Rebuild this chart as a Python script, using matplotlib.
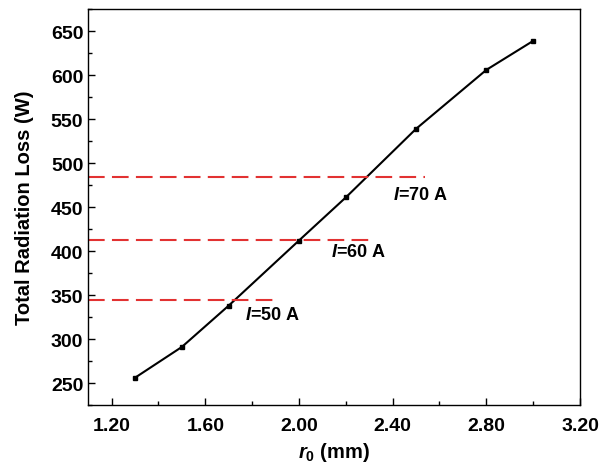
import matplotlib
matplotlib.use('Agg')
import matplotlib.pyplot as plt
from matplotlib.ticker import MultipleLocator, FormatStrFormatter

plt.rcParams['font.family'] = 'Liberation Sans'
plt.rcParams['font.weight'] = 'bold'
plt.rcParams['mathtext.fontset'] = 'custom'
plt.rcParams['mathtext.it'] = 'Liberation Sans:bold:italic'
plt.rcParams['mathtext.rm'] = 'Liberation Sans:bold'

# data
r0 = [1.3, 1.5, 1.7, 2.0, 2.2, 2.5, 2.8, 3.0]
loss = [256, 291, 338, 412, 461, 539, 606, 639]

# reference lines for each current
currents = ['$I$=50 A', '$I$=60 A', '$I$=70 A']
ref_loss = [344, 413, 484]
ref_end = [1.91, 2.32, 2.54]
label_x = [1.77, 2.135, 2.40]
label_y = [328, 399, 464]

fig = plt.figure(figsize=(6.08, 4.64), dpi=100)
ax = fig.add_axes([0.145, 0.125, 0.809, 0.853])

ax.plot(r0, loss, color='black', lw=1.5, marker='s', ms=3.5)

x0 = 1.1
for yv, xe, lab, lx, ly in zip(ref_loss, ref_end, currents, label_x, label_y):
    ax.plot([x0, xe], [yv, yv], color='#e23232', lw=1.5, ls=(0, (8, 3.5)))
    ax.text(lx, ly, lab, fontsize=13, fontweight='bold', va='center', ha='left')

ax.set_xlim(1.1, 3.2)
ax.set_ylim(225, 675)
ax.xaxis.set_major_locator(MultipleLocator(0.4))
ax.xaxis.set_minor_locator(MultipleLocator(0.2))
ax.xaxis.set_major_formatter(FormatStrFormatter('%.2f'))
ax.yaxis.set_major_locator(MultipleLocator(50))
ax.yaxis.set_minor_locator(MultipleLocator(25))
ax.tick_params(which='both', direction='in', labelsize=14)
ax.tick_params(axis='x', which='major', pad=9)
ax.tick_params(which='major', length=5, width=1)
ax.tick_params(which='minor', length=3, width=1)
for s in ax.spines.values():
    s.set_linewidth(1.0)

ax.set_xlabel('$r_0$ (mm)', fontsize=14.5, fontweight='bold', labelpad=4)
ax.set_ylabel('Total Radiation Loss (W)', fontsize=14.5, fontweight='bold', labelpad=12)

fig.savefig('out.png', dpi=100)
